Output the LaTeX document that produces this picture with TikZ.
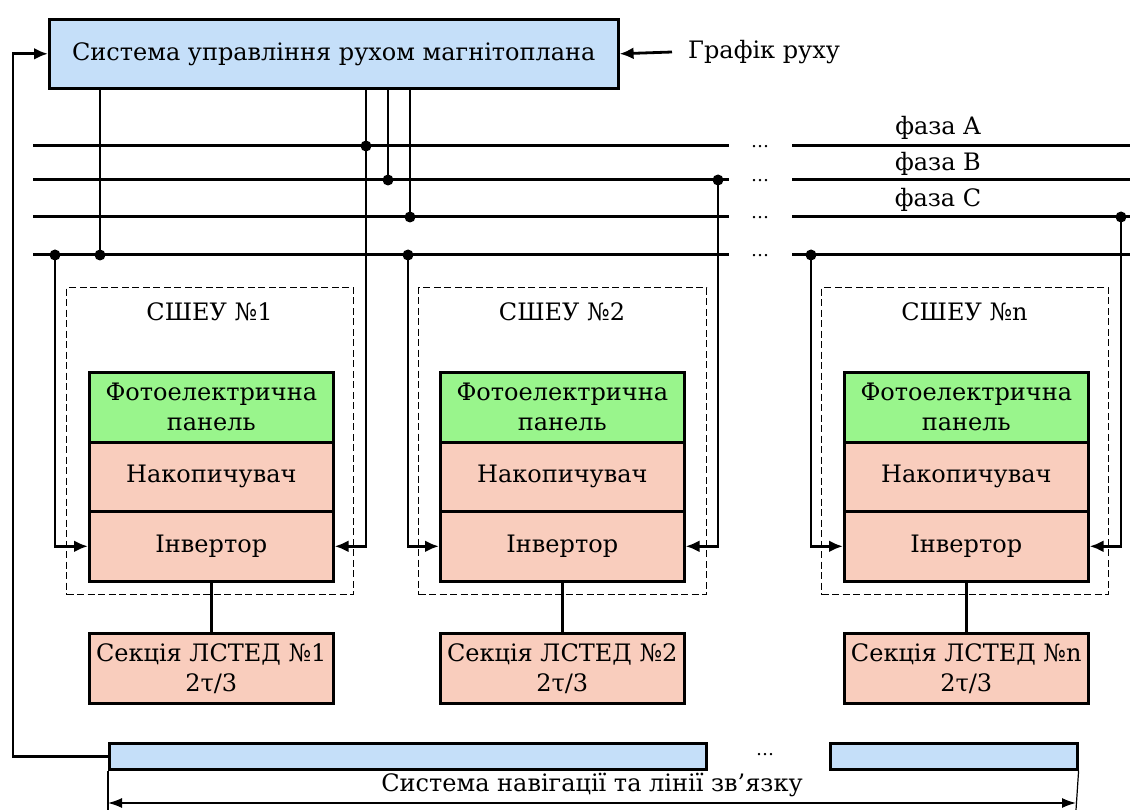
\documentclass[tikz,border=0pt]{standalone}
\usepackage{fontspec}
\setmainfont{DejaVu Serif}
\usetikzlibrary{arrows.meta}
\definecolor{blu}{RGB}{197,223,249}
\definecolor{grn}{RGB}{153,245,140}
\definecolor{sal}{RGB}{249,205,189}
\begin{document}
\begin{tikzpicture}[x=1pt,y=-1pt,
  font=\fontsize{24}{28}\selectfont,
  blk/.style={draw, line width=2.6pt, inner sep=0pt, anchor=north west, align=center},
  grp/.style={draw, line width=1.4pt, dash pattern=on 7pt off 3.5pt, inner sep=0pt, anchor=north west},
  wire/.style={line width=2.8pt},
  bus/.style={line width=3pt},
  arr/.style={line width=2.8pt, -{Latex[length=14pt,width=12pt]}},
  dot/.style={circle, fill=black, inner sep=0pt, minimum size=11pt},
  dots/.style={font=\fontsize{18}{20}\selectfont, anchor=base, inner sep=0pt}]
\useasboundingbox (0,0) rectangle (1130,810);

% control system
\node[blk, fill=blu, minimum width=569pt, minimum height=69pt] (sys) at (48,18) {Система управління рухом магнітоплана};
\node[anchor=west, inner sep=0pt] (graf) at (688,52) {Графік руху};
\path (graf.west) ++(-16,0) coordinate (gs);
\draw[arr] (gs) -- (sys.east);

% buses
\foreach \y/\nm in {146/a,180/b,217/c,255/d}{
  \coordinate (L\nm) at (33,\y);
  \coordinate (M\nm) at (729,\y);
  \coordinate (R\nm) at (792,\y);
  \coordinate (E\nm) at (1130,\y);
  \draw[bus] (L\nm) -- (M\nm);
  \draw[bus] (R\nm) -- (E\nm);
  \node[dots] (el\nm) at (760,\y+1.5) {…};
}
\node (pa) at (938,128) {фаза A};
\node (pb) at (938,164) {фаза B};
\node (pc) at (938,200) {фаза C};

% stations
\foreach \i/\dl/\il/\w in {1/66/88/287, 2/418/439/288, n/821/843/287}{
  \node[grp, minimum width=\w pt, minimum height=307pt] (g\i) at (\dl,287) {};
  \node[anchor=center] (lab\i) at (\dl+\w/2,312) {СШЕУ №\i};
  \node[blk, fill=grn, minimum width=244pt, minimum height=70pt, font=\fontsize{24}{30}\selectfont] (pv\i) at (\il,371) {Фотоелектрична\\панель};
  \node[blk, fill=sal, minimum width=244pt, minimum height=69pt] (acc\i) at (\il,441) {Накопичувач};
  \node[blk, fill=sal, minimum width=244pt, minimum height=70pt] (inv\i) at (\il,510) {Інвертор};
  \node[blk, fill=sal, minimum width=244pt, minimum height=70pt, font=\fontsize{24}{30}\selectfont] (sec\i) at (\il,632) {Секція ЛСТЕД №\i\\2τ/3};
  \draw[wire] (inv\i.south) -- (sec\i.north);
}

% control lines from system
\coordinate (k0) at (100,255);
\coordinate (ka) at (366,146);
\coordinate (kb) at (388,180);
\coordinate (kc) at (410,217);
\draw[wire] (sys.south -| k0) -- (k0);
\draw[wire] (sys.south -| kb) -- (kb);
\draw[wire] (sys.south -| kc) -- (kc);
\draw[arr] (sys.south -| ka) |- (inv1.east);
\node[dot] at (k0) {};
\node[dot] at (ka) {};
\node[dot] at (kb) {};
\node[dot] at (kc) {};

% taps
\coordinate (t1) at (55,255);
\coordinate (t2) at (408,255);
\coordinate (t3) at (718,180);
\coordinate (t4) at (811,255);
\coordinate (t5) at (1121,217);
\draw[arr] (t1) |- (inv1.west);
\draw[arr] (t2) |- (inv2.west);
\draw[arr] (t3) |- (inv2.east);
\draw[arr] (t4) |- (invn.west);
\draw[arr] (t5) |- (invn.east);
\foreach \t in {t1,t2,t3,t4,t5} \node[dot] at (\t) {};

% navigation
\node[blk, fill=blu, minimum width=597pt, minimum height=26pt] (nav1) at (108,742) {};
\node[blk, fill=blu, minimum width=247pt, minimum height=26pt] (nav2) at (829,742) {};
\node[dots] (eln) at (765,755) {…};
\coordinate (fb) at (13,400);
\draw[arr] (nav1.west) -| (fb) |- (sys.west);
\coordinate (d1) at (108,810);
\coordinate (d2) at (1076,810);
\draw[line width=1.2pt] (nav1.south west) -- (d1);
\draw[line width=1.2pt] (nav2.south east) -- (d2);
\draw[line width=1.4pt, {Latex[length=14pt,width=10pt]}-{Latex[length=14pt,width=10pt]}] (108,803) -- (1076,803);
\node (navt) at (592,785) {Система навігації та лінії зв’язку};
\end{tikzpicture}
\end{document}
